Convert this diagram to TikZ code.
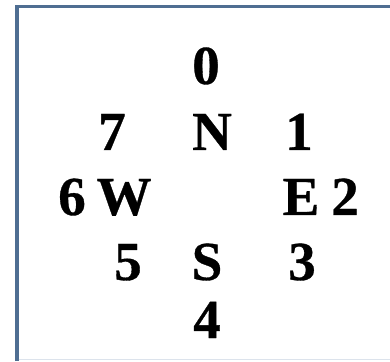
\documentclass[tikz,border=0pt]{standalone}
\usepackage{fontspec}
\setmainfont{Liberation Serif}
\newfontfamily\heavyfont[FakeBold=0.6]{Liberation Serif Bold}
\definecolor{frame}{HTML}{4F6E92}
\definecolor{framelight}{HTML}{DCE3EC}
\begin{document}
\begin{tikzpicture}[x=1pt,y=1pt,
  lbl/.style={anchor=base,inner sep=0pt,font=\fontsize{55}{55}\heavyfont}]
\useasboundingbox (0,0) rectangle (390,361);
\fill[white] (0,0) rectangle (390,361);
\draw[frame,line width=3.2pt] (17,0) -- (17,354.5) -- (390,354.5);
\draw[framelight,line width=1.5pt] (18.6,1.5) -- (390,1.5);
% row 0
\node[lbl] (n0) at (206,277) {0};
% row 1
\node[lbl] (n7) at (112,211) {7};
\node[lbl] (nN) at (212,211) {N};
\node[lbl] (n1) at (299,211) {1};
% row 2
\node[lbl] (n6) at (72,146) {6};
\node[lbl] (nW) at (124,146) {W};
\node[lbl] (nE) at (301,146) {E};
\node[lbl] (n2) at (345,146) {2};
% row 3
\node[lbl] (n5) at (128,81) {5};
\node[lbl] (nS) at (207,81) {S};
\node[lbl] (n3) at (302,81) {3};
% row 4
\node[lbl] (n4) at (207,23) {4};
\end{tikzpicture}
\end{document}
